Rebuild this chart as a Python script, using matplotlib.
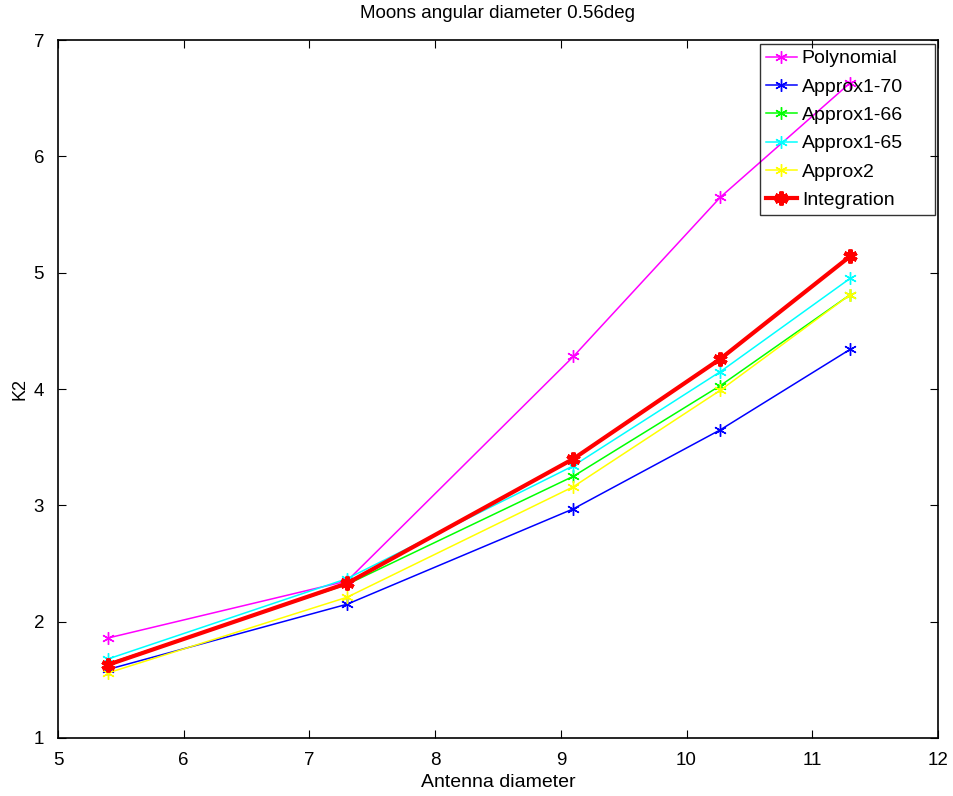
import matplotlib
matplotlib.use("Agg")
import matplotlib.pyplot as plt

plt.rcParams['font.family'] = ['Liberation Sans', 'DejaVu Sans']

# antenna diameters and K2 for each method
diam = [5.4, 7.3, 9.1, 10.27, 11.3]
polynomial = [1.86, 2.35, 4.28, 5.65, 6.63]
approx1_70 = [1.59, 2.15, 2.97, 3.65, 4.34]
approx1_66 = [1.64, 2.32, 3.25, 4.03, 4.81]
approx1_65 = [1.68, 2.37, 3.34, 4.15, 4.95]
approx2 = [1.56, 2.21, 3.16, 3.99, 4.81]
integration = [1.63, 2.33, 3.40, 4.26, 5.14]

star = (6, 2, 0)

fig = plt.figure(figsize=(9.54, 7.96), dpi=100)
ax = fig.add_axes([0.0608, 0.0729, 0.9224, 0.8768])

ax.plot(diam, polynomial, color='#ff00ff', lw=1.1, marker=star, ms=9, mew=1, label='Polynomial')
ax.plot(diam, approx1_70, color='#0000ff', lw=1.1, marker=star, ms=9, mew=1, label='Approx1-70')
ax.plot(diam, approx1_66, color='#00ff00', lw=1.1, marker=star, ms=9, mew=1, label='Approx1-66')
ax.plot(diam, approx1_65, color='#00ffff', lw=1.1, marker=star, ms=9, mew=1, label='Approx1-65')
ax.plot(diam, approx2, color='#ffff00', lw=1.1, marker=star, ms=9, mew=1, label='Approx2')
ax.plot(diam, integration, color='#ff0000', lw=3, marker=star, ms=10, mew=3, label='Integration')

ax.set_xlim(5, 12)
ax.set_ylim(1, 7)
ax.set_xticks(range(5, 13))
ax.set_yticks(range(1, 8))
ax.tick_params(direction='in', top=True, right=True, labelsize=13.5, length=6, pad=10)
for s in ax.spines.values():
    s.set_linewidth(1.2)

ax.set_title('Moons angular diameter 0.56deg', fontsize=13.5, pad=16)
ax.set_xlabel('Antenna diameter', fontsize=14, labelpad=4)
ax.set_ylabel('K2', fontsize=13, labelpad=4)

# transparent legend box stretched to a fixed width in the top right corner
leg = ax.legend(loc='upper left', bbox_to_anchor=(0.7977, 0.3, 0.199, 0.6943),
                mode='expand', fontsize=14, fancybox=False, facecolor='none',
                edgecolor='black', borderaxespad=0, handlelength=1.6,
                handletextpad=0.25, labelspacing=0.55, borderpad=0.3)
leg.get_frame().set_linewidth(1)

fig.savefig('out.png', dpi=100)
